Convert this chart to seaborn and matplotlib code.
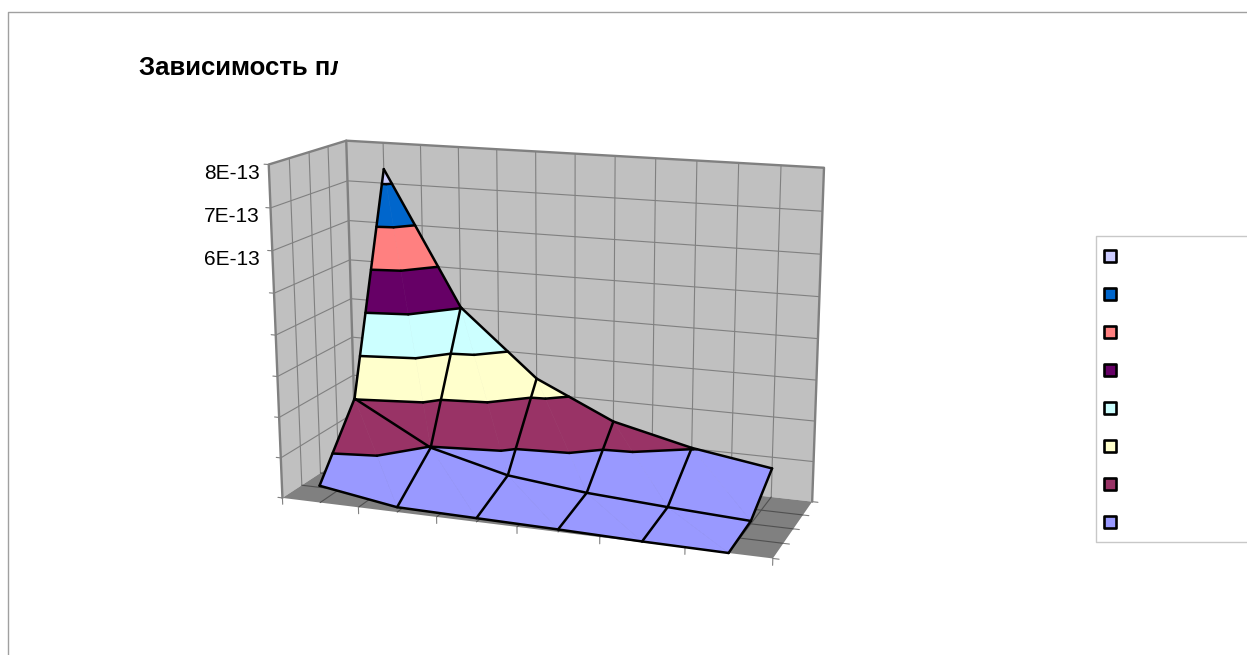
import numpy as np
import pandas as pd
import matplotlib
matplotlib.use('Agg')
import matplotlib.pyplot as plt
import seaborn as sns
from matplotlib.transforms import Bbox, TransformedBbox

# surface heights in units of 1E-13
front_row = [0.42, 0.12, 0.09, 0.06, 0.02, 0.0]
middle_row = [2.02, 0.98, 0.5, 0.29, 0.17, 0.07]
back_row = [7.35, 4.02, 2.38, 1.48, 1.02, 0.72]

title_text = 'Зависимость пл'
value_labels = ['8E-13', '7E-13', '6E-13']
value_ticks = [8, 7, 6]
band_colors = ['#9999FF', '#993366', '#FFFFCC', '#CCFFFF', '#660066', '#FF8080', '#0066CC', '#CCCCFF']

n_cols = 6
n_rows = 2
z_max = 8

sns.set_theme(style='white')
plt.rcParams['font.family'] = ['Liberation Sans', 'DejaVu Sans']

# --- camera: fit a projection from the corners of the chart box ---
box_3d = [(0, 0, 0), (6, 0, 0), (6, 2, 0), (0, 2, 0), (0, 0, 8), (0, 2, 8), (6, 2, 8)]
box_px = [(282, 496), (773, 560), (812, 500), (356, 452), (269, 165), (346, 140), (824, 168)]

rows = []
for (a, b, c), (px, py) in zip(box_3d, box_px):
    rows.append([a, b, c, 1, 0, 0, 0, 0, -px * a, -px * b, -px * c, -px])
    rows.append([0, 0, 0, 0, a, b, c, 1, -py * a, -py * b, -py * c, -py])
P = np.linalg.svd(np.array(rows, dtype=float))[2][-1].reshape(3, 4)


def project(points):
    pts = np.atleast_2d(np.array(points, dtype=float))
    h = np.c_[pts, np.ones(len(pts))] @ P.T
    return h[:, 0] / h[:, 2], h[:, 1] / h[:, 2]


def clip_poly(poly, level, keep_above):
    out = []
    for i in range(len(poly)):
        p, q = poly[i], poly[(i + 1) % len(poly)]
        p_in = p[2] >= level if keep_above else p[2] <= level
        q_in = q[2] >= level if keep_above else q[2] <= level
        if p_in:
            out.append(p)
        if p_in != q_in:
            out.append(p + (q - p) * (level - p[2]) / (q[2] - p[2]))
    return out


def add_line(store, points):
    x, y = project(points)
    line_id = len(store)
    store.append(pd.DataFrame({'x': x, 'y': y, 'line': line_id}))


def draw_lines(store, color, lw, zorder):
    if store:
        sns.lineplot(data=pd.concat(store), x='x', y='y', units='line', estimator=None, sort=False,
                     color=color, linewidth=lw, zorder=zorder, legend=False, ax=ax)


fig = plt.figure(figsize=(12.47, 6.55), dpi=100)
ax = fig.add_axes([0, 0, 1, 1])

# --- walls and floor ---
side_wall = [(0, 0, 0), (0, 2, 0), (0, 2, 8), (0, 0, 8)]
back_wall = [(0, 2, 0), (6, 2, 0), (6, 2, 8), (0, 2, 8)]
floor = [(0, 0, 0), (6, 0, 0), (6, 2, 0), (0, 2, 0)]
for face, color in [(side_wall, '#C0C0C0'), (back_wall, '#C0C0C0'), (floor, '#808080')]:
    ax.fill(*project(face), color=color, lw=0, zorder=1)

wall_grid = []
for w in range(1, z_max):
    add_line(wall_grid, [(0, 0, w), (0, 2, w), (6, 2, w)])
for u in np.arange(0.5, n_cols, 0.5):
    add_line(wall_grid, [(u, 2, 0), (u, 2, 8)])
for v in np.arange(0.5, n_rows, 0.5):
    add_line(wall_grid, [(0, v, 0), (0, v, 8)])
draw_lines(wall_grid, '#808080', 0.8, 2)

floor_grid = []
for u in np.arange(0.5, n_cols, 0.5):
    add_line(floor_grid, [(u, 0, 0), (u, 2, 0)])
for v in np.arange(0.5, n_rows, 0.5):
    add_line(floor_grid, [(0, v, 0), (6, v, 0)])
draw_lines(floor_grid, '#505050', 0.8, 2)

border = []
add_line(border, [(0, 0, 0), (0, 0, 8), (0, 2, 8), (6, 2, 8), (6, 2, 0)])
add_line(border, [(0, 2, 8), (0, 2, 0)])
draw_lines(border, '#808080', 1.7, 3)

ticks = []
for u in range(n_cols + 1):
    add_line(ticks, [(u, 0, 0), (u, 0, -0.16)])
for v in np.arange(0, n_rows + 0.5, 0.5):
    add_line(ticks, [(6, v, 0), (6.07, v, 0)])
for w in range(z_max + 1):
    add_line(ticks, [(0, 0, w), (-0.06, 0, w)])
draw_lines(ticks, '#808080', 0.8, 2)

# --- surface, split in triangles and then in value bands ---
heights = np.array([front_row, middle_row, back_row], dtype=float)


def vertex(col, row):
    return np.array([col + 0.5, row, heights[row, col]])


triangles = []
for row in range(n_rows):
    for col in range(n_cols - 1):
        a, b = vertex(col, row), vertex(col + 1, row)
        c, d = vertex(col + 1, row + 1), vertex(col, row + 1)
        triangles.append([a, b, d])
        triangles.append([b, c, d])

contours = []
for tri in triangles:
    for k, color in enumerate(band_colors):
        poly = clip_poly(tri, k, True)
        if len(poly) >= 3:
            poly = clip_poly(poly, k + 1, False)
        if len(poly) >= 3:
            ax.fill(*project(poly), facecolor=color, edgecolor=color, lw=0.4, zorder=4)
    for level in range(1, z_max):
        cuts = []
        for i in range(3):
            p, q = tri[i], tri[(i + 1) % 3]
            if (p[2] - level) * (q[2] - level) < 0:
                cuts.append(p + (q - p) * (level - p[2]) / (q[2] - p[2]))
        if len(cuts) == 2:
            add_line(contours, cuts)
draw_lines(contours, 'black', 1.8, 5)

mesh = []
for row in range(n_rows + 1):
    add_line(mesh, [vertex(col, row) for col in range(n_cols)])
for col in range(n_cols):
    add_line(mesh, [vertex(col, row) for row in range(n_rows + 1)])
draw_lines(mesh, 'black', 1.8, 6)

# --- value labels ---
for label, tick in zip(value_labels, value_ticks):
    x, y = project([(0, 0, tick)])
    ax.text(260, y[0] + 9, label, ha='right', va='center', fontsize=15, color='black')

# --- legend ---
ax.plot([1247, 1096, 1096, 1247], [236, 236, 542, 542], color='#C8C8C8', lw=1, zorder=1)
legend_df = pd.DataFrame({'band': band_colors[::-1]})
legend_df['x'] = 1110
legend_df['y'] = 256 + 38 * legend_df.index
sns.scatterplot(data=legend_df, x='x', y='y', hue='band', palette=band_colors[::-1], marker='s', s=78,
                edgecolor='black', linewidth=1.9, legend=False, ax=ax, zorder=7)

# --- chart frame and title ---
ax.plot([8, 8, 1247], [655, 12, 12], color='#A0A0A0', lw=1, zorder=1)
title = ax.text(139, 75, title_text, fontsize=18.5, fontweight='bold', color='black', ha='left', va='baseline')
title.set_clip_on(True)
title.set_clip_box(TransformedBbox(Bbox([[0, 0], [338, 655]]), ax.transData))

ax.set_xlim(0, 1247)
ax.set_ylim(655, 0)
ax.set_xlabel('')
ax.set_ylabel('')
ax.axis('off')
fig.savefig('out.png', dpi=100)
